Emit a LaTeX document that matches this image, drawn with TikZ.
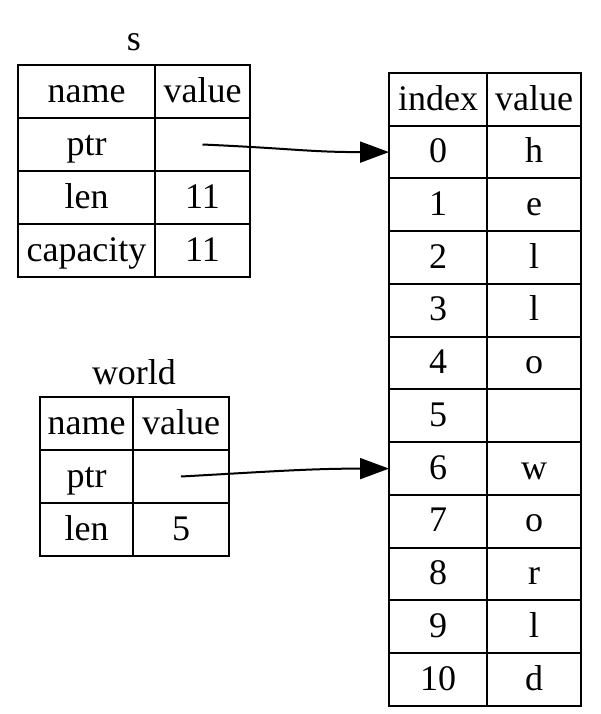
\documentclass[tikz,border=0pt]{standalone}
\usepackage{fontspec}
\setmainfont{Liberation Serif}
\usetikzlibrary{arrows.meta,positioning}

\begin{document}
\begin{tikzpicture}[x=0.5pt, y=-0.5pt, line width=1pt, node distance=0pt,
    font=\fontsize{18}{21}\selectfont]
  % Styles
  \tikzset{
    cell/.style={rectangle, draw, inner sep=0pt, outer sep=0pt, minimum height=26.5pt,
      text height=14pt, text depth=3.5pt},
    sname/.style={cell, minimum width=68.5pt},
    svalue/.style={cell, minimum width=47.5pt},
    wname/.style={cell, minimum width=46.5pt},
    wvalue/.style={cell, minimum width=48pt},
    bindex/.style={cell, minimum width=49pt, minimum height=26.375pt},
    bvalue/.style={cell, minimum width=47pt, minimum height=26.375pt},
    ptrarrow/.style={draw, -{Triangle[length=14.5pt,width=10.5pt]}}
  }
  \useasboundingbox (0,0) rectangle (601,714);

  % Table s
  \node (stitle) at (134,42) {s};
  \node[sname] (shname) at (86.5,91.5) {name};
  \node[svalue, right=of shname] (shvalue) {value};
  \node[sname, below=of shname] (sptr) {ptr};
  \node[svalue, right=of sptr] (sptrv) {};
  \node[sname, below=of sptr] (slen) {len};
  \node[svalue, right=of slen] (slenv) {11};
  \node[sname, below=of slen] (scap) {capacity};
  \node[svalue, right=of scap] (scapv) {11};

  % Table world
  \node (wtitle) at (134,372) {world};
  \node[wname] (whname) at (86.5,423.5) {name};
  \node[wvalue, right=of whname] (whvalue) {value};
  \node[wname, below=of whname] (wptr) {ptr};
  \node[wvalue, right=of wptr] (wptrv) {};
  \node[wname, below=of wptr] (wlen) {len};
  \node[wvalue, right=of wlen] (wlenv) {5};

  % Table of bytes
  \node[bindex] (bhindex) at (438,99.5) {index};
  \node[bvalue, right=of bhindex] (bhvalue) {value};
  \foreach \i/\c in {0/h,1/e,2/l,3/l,4/o,5/,6/w,7/o,8/r,9/l,10/d} {
    \node[bindex] (i\i) at (438,{152.1+52.75*\i}) {\i};
    \node[bvalue, right=of i\i] (v\i) {\c};
  }

  % Pointers
  \path[ptrarrow] (sptrv.center) .. controls +(90,4) and +(-80,0) .. (i0.west);
  \path[ptrarrow] (wptrv.center) .. controls +(90,-5) and +(-80,0) .. (i6.west);
\end{tikzpicture}
\end{document}
